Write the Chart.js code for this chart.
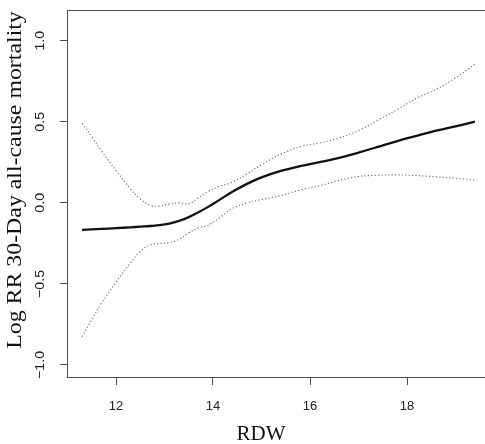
<!DOCTYPE html>
<html>
<head>
<meta charset="utf-8">
<script src="https://cdn.jsdelivr.net/npm/chart.js@4/dist/chart.umd.min.js"></script>
<style>
html,body{margin:0;padding:0;overflow:hidden;background:#fff;width:485px;height:444px;}
#wrap{position:relative;width:520px;height:444px;}
</style>
</head>
<body>
<div id="wrap"><canvas id="c" width="520" height="444"></canvas></div>
<script>
// RDW values (x)
const rdw = [11.3, 11.5, 11.7, 12.0, 12.3, 12.5, 12.7, 12.9, 13.1, 13.3, 13.5, 13.7, 13.9, 14.1, 14.4, 14.7, 15.0, 15.4, 15.8, 16.2, 16.6, 17.0, 17.4, 17.8, 18.2, 18.6, 19.0, 19.4];
// Log RR estimate
const logRR = [-0.167, -0.164, -0.161, -0.156, -0.151, -0.147, -0.143, -0.138, -0.128, -0.111, -0.088, -0.058, -0.025, 0.012, 0.068, 0.117, 0.157, 0.197, 0.227, 0.251, 0.277, 0.310, 0.345, 0.381, 0.413, 0.445, 0.472, 0.500];
// Upper 95% CI
const upperCI = [0.490, 0.410, 0.320, 0.200, 0.085, 0.025, -0.015, -0.020, -0.008, 0.000, -0.006, 0.030, 0.070, 0.098, 0.128, 0.178, 0.235, 0.300, 0.346, 0.370, 0.400, 0.445, 0.510, 0.575, 0.645, 0.700, 0.770, 0.855];
// Lower 95% CI
const lowerCI = [-0.825, -0.720, -0.620, -0.490, -0.370, -0.300, -0.260, -0.250, -0.245, -0.225, -0.185, -0.155, -0.138, -0.100, -0.035, 0.000, 0.020, 0.045, 0.079, 0.105, 0.138, 0.162, 0.170, 0.172, 0.168, 0.160, 0.152, 0.141];
// Tick labels
const xTicks = [12, 14, 16, 18];
const yTicks = [-1.0, -0.5, 0.0, 0.5, 1.0];
const xTitle = 'RDW';
const yTitle = 'Log RR 30-Day all-cause mortality';

const pts = (ys) => rdw.map((x, i) => ({x: x, y: ys[i]}));
const frameColor = '#4d4d4d';

const labelPlugin = {
  id: 'rLabels',
  afterDraw(chart) {
    const ctx = chart.ctx;
    const xs = chart.scales.x, ys = chart.scales.y;
    const a = chart.chartArea;
    ctx.save();
    // top frame line
    ctx.strokeStyle = frameColor;
    ctx.lineWidth = 1;
    ctx.beginPath();
    ctx.moveTo(a.left, a.top + 0.5);
    ctx.lineTo(a.right, a.top + 0.5);
    ctx.stroke();
    // x tick labels
    ctx.fillStyle = '#222';
    ctx.font = '13px "Liberation Sans", Arial, sans-serif';
    ctx.textAlign = 'center';
    ctx.textBaseline = 'alphabetic';
    xTicks.forEach(v => {
      ctx.fillText(String(v), xs.getPixelForValue(v), 410);
    });
    // y tick labels (rotated)
    yTicks.forEach(v => {
      const py = ys.getPixelForValue(v);
      ctx.save();
      ctx.translate(43.5, py);
      ctx.rotate(-Math.PI / 2);
      ctx.scale(1.1, 1);
      ctx.textAlign = 'center';
      ctx.fillText(v.toFixed(1).replace('-', '\u2212'), 0, 0);
      ctx.restore();
    });
    // x title
    ctx.fillStyle = '#111';
    ctx.font = '21px "Liberation Serif", "Times New Roman", serif';
    ctx.textAlign = 'center';
    ctx.fillText(xTitle, 261, 440);
    // y title
    ctx.save();
    ctx.translate(21, 180);
    ctx.rotate(-Math.PI / 2);
    ctx.scale(1.135, 1);
    ctx.textAlign = 'center';
    ctx.fillText(yTitle, 0, 0);
    ctx.restore();
    ctx.restore();
  }
};

new Chart(document.getElementById('c'), {
  type: 'line',
  data: {
    datasets: [
      {data: pts(upperCI), borderColor: '#707070', borderWidth: 1.2, borderDash: [1.2, 2.2], pointRadius: 0, fill: false, tension: 0.4},
      {data: pts(lowerCI), borderColor: '#707070', borderWidth: 1.2, borderDash: [1.2, 2.2], pointRadius: 0, fill: false, tension: 0.4},
      {data: pts(logRR), borderColor: '#111', borderWidth: 2.3, pointRadius: 0, fill: false, tension: 0.4}
    ]
  },
  options: {
    responsive: false,
    devicePixelRatio: 1,
    animation: false,
    events: [],
    layout: {padding: {top: 10, right: 30, left: 0, bottom: 0}},
    plugins: {legend: {display: false}, tooltip: {enabled: false}, title: {display: false}},
    scales: {
      x: {
        type: 'linear',
        min: 12 - 49 / 48.5,
        max: 12 + 374 / 48.5,
        afterFit(s) { s.height = 67; },
        afterBuildTicks(s) { s.ticks = xTicks.map(v => ({value: v})); },
        ticks: {display: false},
        grid: {drawOnChartArea: false, drawTicks: true, tickLength: 8, color: frameColor, lineWidth: 1},
        border: {display: true, color: frameColor, width: 1}
      },
      y: {
        type: 'linear',
        min: -1.074,
        max: 1.189,
        afterFit(s) { s.width = 67; },
        afterBuildTicks(s) { s.ticks = yTicks.map(v => ({value: v})); },
        ticks: {display: false},
        grid: {drawOnChartArea: false, drawTicks: true, tickLength: 7, color: frameColor, lineWidth: 1},
        border: {display: true, color: frameColor, width: 1}
      }
    }
  },
  plugins: [labelPlugin]
});
</script>
</body>
</html>
